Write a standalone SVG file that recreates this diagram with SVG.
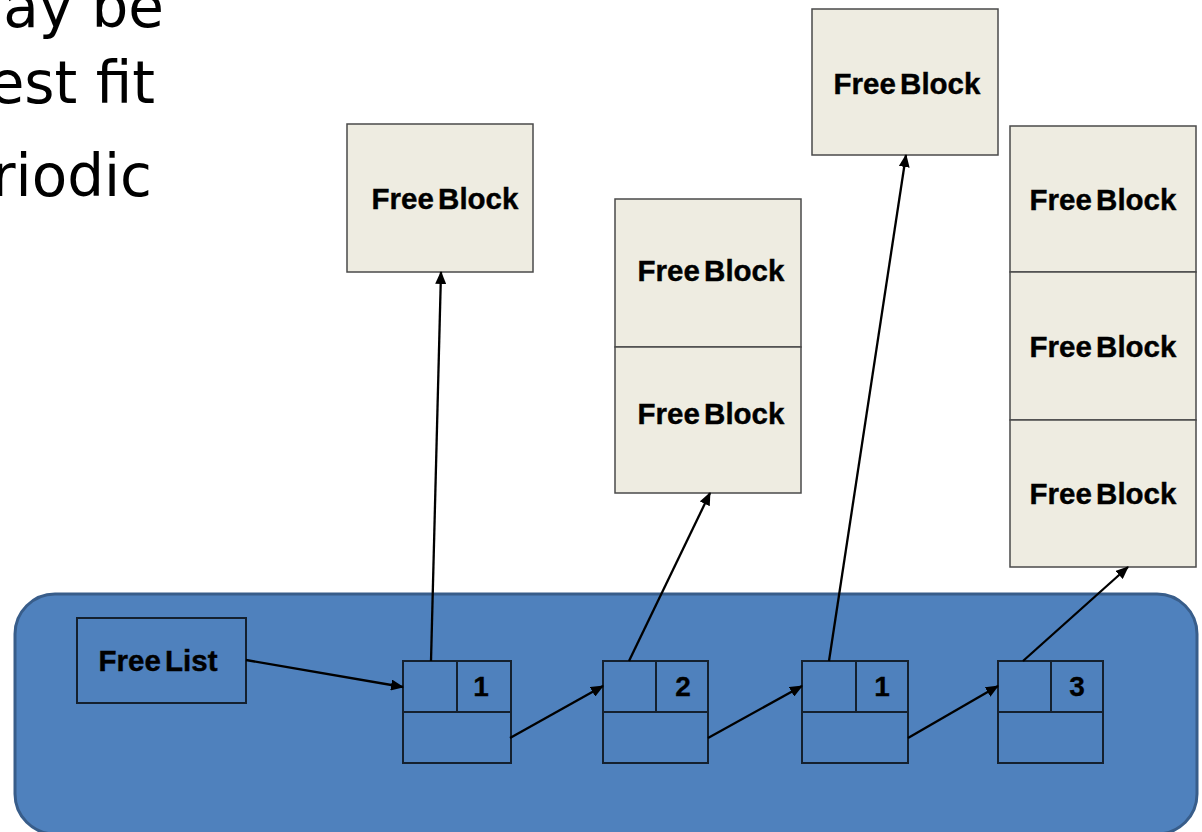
<svg xmlns="http://www.w3.org/2000/svg" width="1202" height="832" viewBox="0 0 1202 832">
  <style>
    .slide { font-family: "DejaVu Sans", Verdana, sans-serif; font-size: 58px; fill: #000; text-anchor: end; }
    .block { fill: #EEECE1; stroke: #4a4a4a; stroke-width: 1.5; }
    .lbl { font-family: "Liberation Sans", Arial, sans-serif; font-weight: bold; font-size: 29.5px; fill: #000; text-anchor: middle; word-spacing: -4px; stroke: #000; stroke-width: 0.4; }
    .cell { fill: none; stroke: #14202e; stroke-width: 2; }
    .num { font-family: "Liberation Sans", Arial, sans-serif; font-weight: bold; font-size: 28px; fill: #000; text-anchor: middle; stroke: #000; stroke-width: 0.3; }
    .link { fill: none; stroke: #000; stroke-width: 2.3; marker-end: url(#head); }
  </style>
  <defs>
    <marker id="head" markerWidth="13" markerHeight="11" refX="12" refY="5.5" orient="auto" markerUnits="userSpaceOnUse">
      <path d="M0,0 L13,5.5 L0,11 Z" fill="#000"/>
    </marker>
  </defs>

  <rect width="1202" height="832" fill="#fff"/>

  <!-- bullet text, cut at the left edge -->
  <g id="bullets">
    <text class="slide" x="164" y="27">ay be</text>
    <text class="slide" x="155" y="103">est fit</text>
    <text class="slide" x="152" y="196">riodic</text>
  </g>

  <!-- list area -->
  <rect id="list-area" x="15" y="594" width="1182" height="240" rx="40" ry="40" fill="#4F81BD" stroke="#385D8A" stroke-width="3"/>

  <g id="free-list">
    <rect class="cell" x="77" y="618" width="169" height="85"/>
    <text class="lbl" x="158" y="671">Free List</text>
  </g>

  <g id="node-1">
    <rect class="cell" x="403" y="661" width="108" height="102"/>
    <line class="cell" x1="403" y1="712" x2="511" y2="712"/>
    <line class="cell" x1="457" y1="661" x2="457" y2="712"/>
    <text class="num" x="481" y="696">1</text>
  </g>
  <g id="node-2">
    <rect class="cell" x="603" y="661" width="105" height="102"/>
    <line class="cell" x1="603" y1="712" x2="708" y2="712"/>
    <line class="cell" x1="656" y1="661" x2="656" y2="712"/>
    <text class="num" x="683" y="696">2</text>
  </g>
  <g id="node-3">
    <rect class="cell" x="802" y="661" width="106" height="102"/>
    <line class="cell" x1="802" y1="712" x2="908" y2="712"/>
    <line class="cell" x1="856" y1="661" x2="856" y2="712"/>
    <text class="num" x="882" y="696">1</text>
  </g>
  <g id="node-4">
    <rect class="cell" x="998" y="661" width="105" height="102"/>
    <line class="cell" x1="998" y1="712" x2="1103" y2="712"/>
    <line class="cell" x1="1051" y1="661" x2="1051" y2="712"/>
    <text class="num" x="1077" y="696">3</text>
  </g>

  <!-- free blocks -->
  <g id="block-a">
    <rect class="block" x="347" y="124" width="186" height="148"/>
    <text class="lbl" x="445" y="209">Free Block</text>
  </g>
  <g id="block-b">
    <rect class="block" x="615" y="199" width="186" height="148"/>
    <rect class="block" x="615" y="347" width="186" height="146"/>
    <text class="lbl" x="711" y="281">Free Block</text>
    <text class="lbl" x="711" y="424">Free Block</text>
  </g>
  <g id="block-c">
    <rect class="block" x="812" y="9" width="186" height="146"/>
    <text class="lbl" x="907" y="94">Free Block</text>
  </g>
  <g id="block-d">
    <rect class="block" x="1010" y="126" width="186" height="146"/>
    <rect class="block" x="1010" y="272" width="186" height="148"/>
    <rect class="block" x="1010" y="420" width="186" height="147"/>
    <text class="lbl" x="1103" y="210">Free Block</text>
    <text class="lbl" x="1103" y="357">Free Block</text>
    <text class="lbl" x="1103" y="504">Free Block</text>
  </g>

  <g id="connectors">
    <line class="link" x1="246" y1="660" x2="403" y2="687"/>
    <line class="link" x1="510" y1="738" x2="603" y2="686"/>
    <line class="link" x1="708" y1="738" x2="802" y2="686"/>
    <line class="link" x1="908" y1="738" x2="998" y2="686"/>
    <line class="link" x1="431" y1="661" x2="441" y2="272"/>
    <line class="link" x1="629" y1="661" x2="710" y2="493"/>
    <line class="link" x1="829" y1="661" x2="906" y2="155"/>
    <line class="link" x1="1023" y1="661" x2="1128" y2="567"/>
  </g>
</svg>
